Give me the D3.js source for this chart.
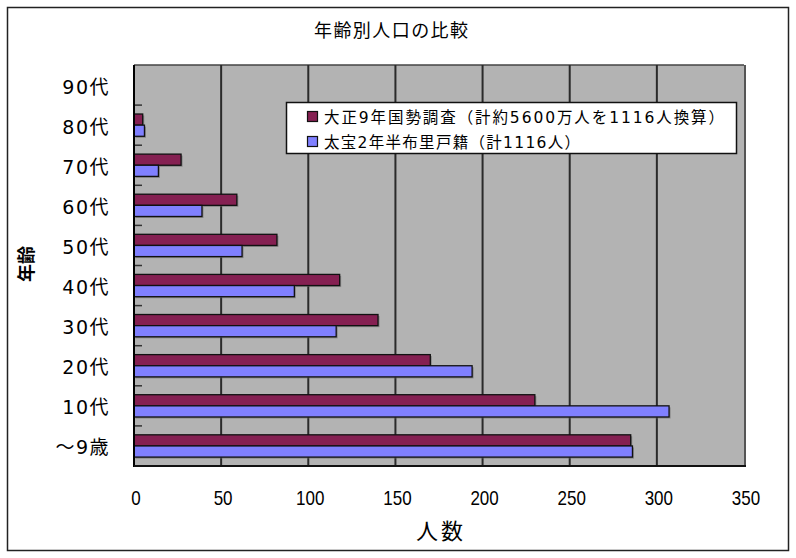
<!DOCTYPE html>
<html><head><meta charset="utf-8">
<script src="https://cdn.jsdelivr.net/npm/d3@7"></script>
<style>
body{margin:0;background:#fff;}
svg{display:block;}
</style></head>
<body>
<script>
const categories = ["90代","80代","70代","60代","50代","40代","30代","20代","10代","～9歳"];
const seriesNames = ["大正9年国勢調査（計約5600万人を1116人換算）","太宝2年半布里戸籍（計1116人）"];
const taisho = [0, 5, 27, 59, 82, 118, 140, 170, 230, 285];
const taiho  = [0, 6, 14, 39, 62, 92, 116, 194, 307, 286];
const xTicks = [0, 50, 100, 150, 200, 250, 300, 350];
const colors = ["#852052", "#8080ff"];
const title = "年齢別人口の比較";
const xTitle = "人数";
const yTitle = "年齢";

const W = 796, H = 558;
const plot = {l:134, t:65, r:744, b:466};
const jp = "'Noto Sans CJK JP','Noto Sans CJK SC',sans-serif";
const mix = "'DejaVu Sans','Noto Sans CJK JP',sans-serif";

const svg = d3.select("body").append("svg").attr("width", W).attr("height", H);

// outer frame
svg.append("rect").attr("x",7.5).attr("y",7.5).attr("width",781).attr("height",543)
  .attr("fill","#fff").attr("stroke","#222").attr("stroke-width",1.5);

const x = d3.scaleLinear().domain([0,350]).range([plot.l, plot.r]);
const y = d3.scaleBand().domain(categories).range([plot.t, plot.b]).padding(0);
const ys = d3.scaleBand().domain([0,1]).range([0, y.bandwidth()]).paddingInner(0).paddingOuter(0.8);

// plot background
svg.append("rect").attr("x",plot.l).attr("y",plot.t).attr("width",plot.r-plot.l).attr("height",plot.b-plot.t)
  .attr("fill","#b3b3b3");
svg.append("line").attr("x1",plot.r+1).attr("x2",plot.r+1).attr("y1",plot.t).attr("y2",plot.b)
  .attr("stroke","#555").attr("stroke-width",2);
svg.append("line").attr("x1",plot.l).attr("x2",plot.r).attr("y1",plot.t).attr("y2",plot.t)
  .attr("stroke","#444").attr("stroke-width",1.5);

// gridlines
svg.append("g").selectAll("line").data(xTicks.slice(1,-1)).join("line")
  .attr("x1",d=>x(d)).attr("x2",d=>x(d)).attr("y1",plot.t).attr("y2",plot.b)
  .attr("stroke","#2a2a2a").attr("stroke-width",2);

// y tick marks at band boundaries (inside)
const bounds = categories.slice(1).map(c=>y(c));
svg.append("g").selectAll("line").data(bounds).join("line")
  .attr("x1",plot.l).attr("x2",plot.l+8).attr("y1",d=>d).attr("y2",d=>d)
  .attr("stroke","#333").attr("stroke-width",1.5);

// bars
const data = [taisho, taiho];
data.forEach((vals, si) => {
  const g = svg.append("g");
  const rows = vals.map((v,i)=>({v, c:categories[i]})).filter(d=>d.v>0);
  g.selectAll("rect.sh").data(rows).join("rect")
    .attr("x", x(0)+1.5).attr("y", d=>y(d.c)+ys(si)+1.5)
    .attr("width", d=>x(d.v)-x(0)).attr("height", ys.bandwidth())
    .attr("fill","#666").attr("opacity",0.6);
  g.selectAll("rect.b").data(rows).join("rect")
    .attr("x", x(0)).attr("y", d=>y(d.c)+ys(si))
    .attr("width", d=>x(d.v)-x(0)).attr("height", ys.bandwidth())
    .attr("fill", colors[si]).attr("stroke","#111").attr("stroke-width",1.3);
});

// axis lines
svg.append("line").attr("x1",plot.l).attr("x2",plot.l).attr("y1",plot.t).attr("y2",plot.b+1)
  .attr("stroke","#000").attr("stroke-width",2);
svg.append("line").attr("x1",plot.l).attr("x2",plot.r+2).attr("y1",plot.b).attr("y2",plot.b)
  .attr("stroke","#111").attr("stroke-width",2);

// x tick labels
svg.append("g").selectAll("text").data(xTicks).join("text")
  .attr("x", d=>x(d)+2).attr("y", 505)
  .attr("text-anchor","middle")
  .attr("font-family","'Liberation Sans Narrow','Liberation Sans',Arial,sans-serif")
  .attr("font-size",20).attr("fill","#000")
  .attr("transform", d=>`translate(${x(d)+2},0) scale(0.85,1) translate(${-(x(d)+2)},0)`)
  .text(d=>d);

// y labels
svg.append("g").selectAll("text").data(categories).join("text")
  .attr("x", 110).attr("y", d=>y(d)+y.bandwidth()/2+3)
  .attr("text-anchor","end").attr("dominant-baseline","middle")
  .attr("font-family",mix)
  .attr("font-size",19).attr("letter-spacing",1.5).attr("fill","#000")
  .text(d=>d);

// titles
svg.append("text").attr("x",314).attr("y",37)
  .attr("font-family",jp).attr("font-size",18).attr("fill","#000")
  .attr("textLength",154).attr("lengthAdjust","spacing").text(title);
svg.append("text").attr("x",416).attr("y",539)
  .attr("font-family",jp).attr("font-size",22).attr("fill","#000")
  .attr("textLength",47).attr("lengthAdjust","spacing").text(xTitle);
svg.append("text").attr("transform","translate(33,264) rotate(-90)").attr("text-anchor","middle")
  .attr("font-family",jp).attr("font-size",18).attr("font-weight",700).attr("fill","#000").text(yTitle);

// legend
const lg = svg.append("g");
lg.append("rect").attr("x",286.5).attr("y",102.5).attr("width",450).attr("height",51)
  .attr("fill","#fff").attr("stroke","#111").attr("stroke-width",1.5);
const legLen = [400, 256];
seriesNames.forEach((n,i)=>{
  const cy = 117 + i*25;
  lg.append("rect").attr("x",307.5).attr("y",cy-5.5).attr("width",10).attr("height",10)
    .attr("fill",colors[i]).attr("stroke","#111").attr("stroke-width",1.2);
  lg.append("text").attr("x",324).attr("y",cy+5.5)
    .attr("font-family",mix).attr("font-size",15.5).attr("fill","#000")
    .attr("textLength",legLen[i]).attr("lengthAdjust","spacing").text(n);
});
</script>
</body></html>
